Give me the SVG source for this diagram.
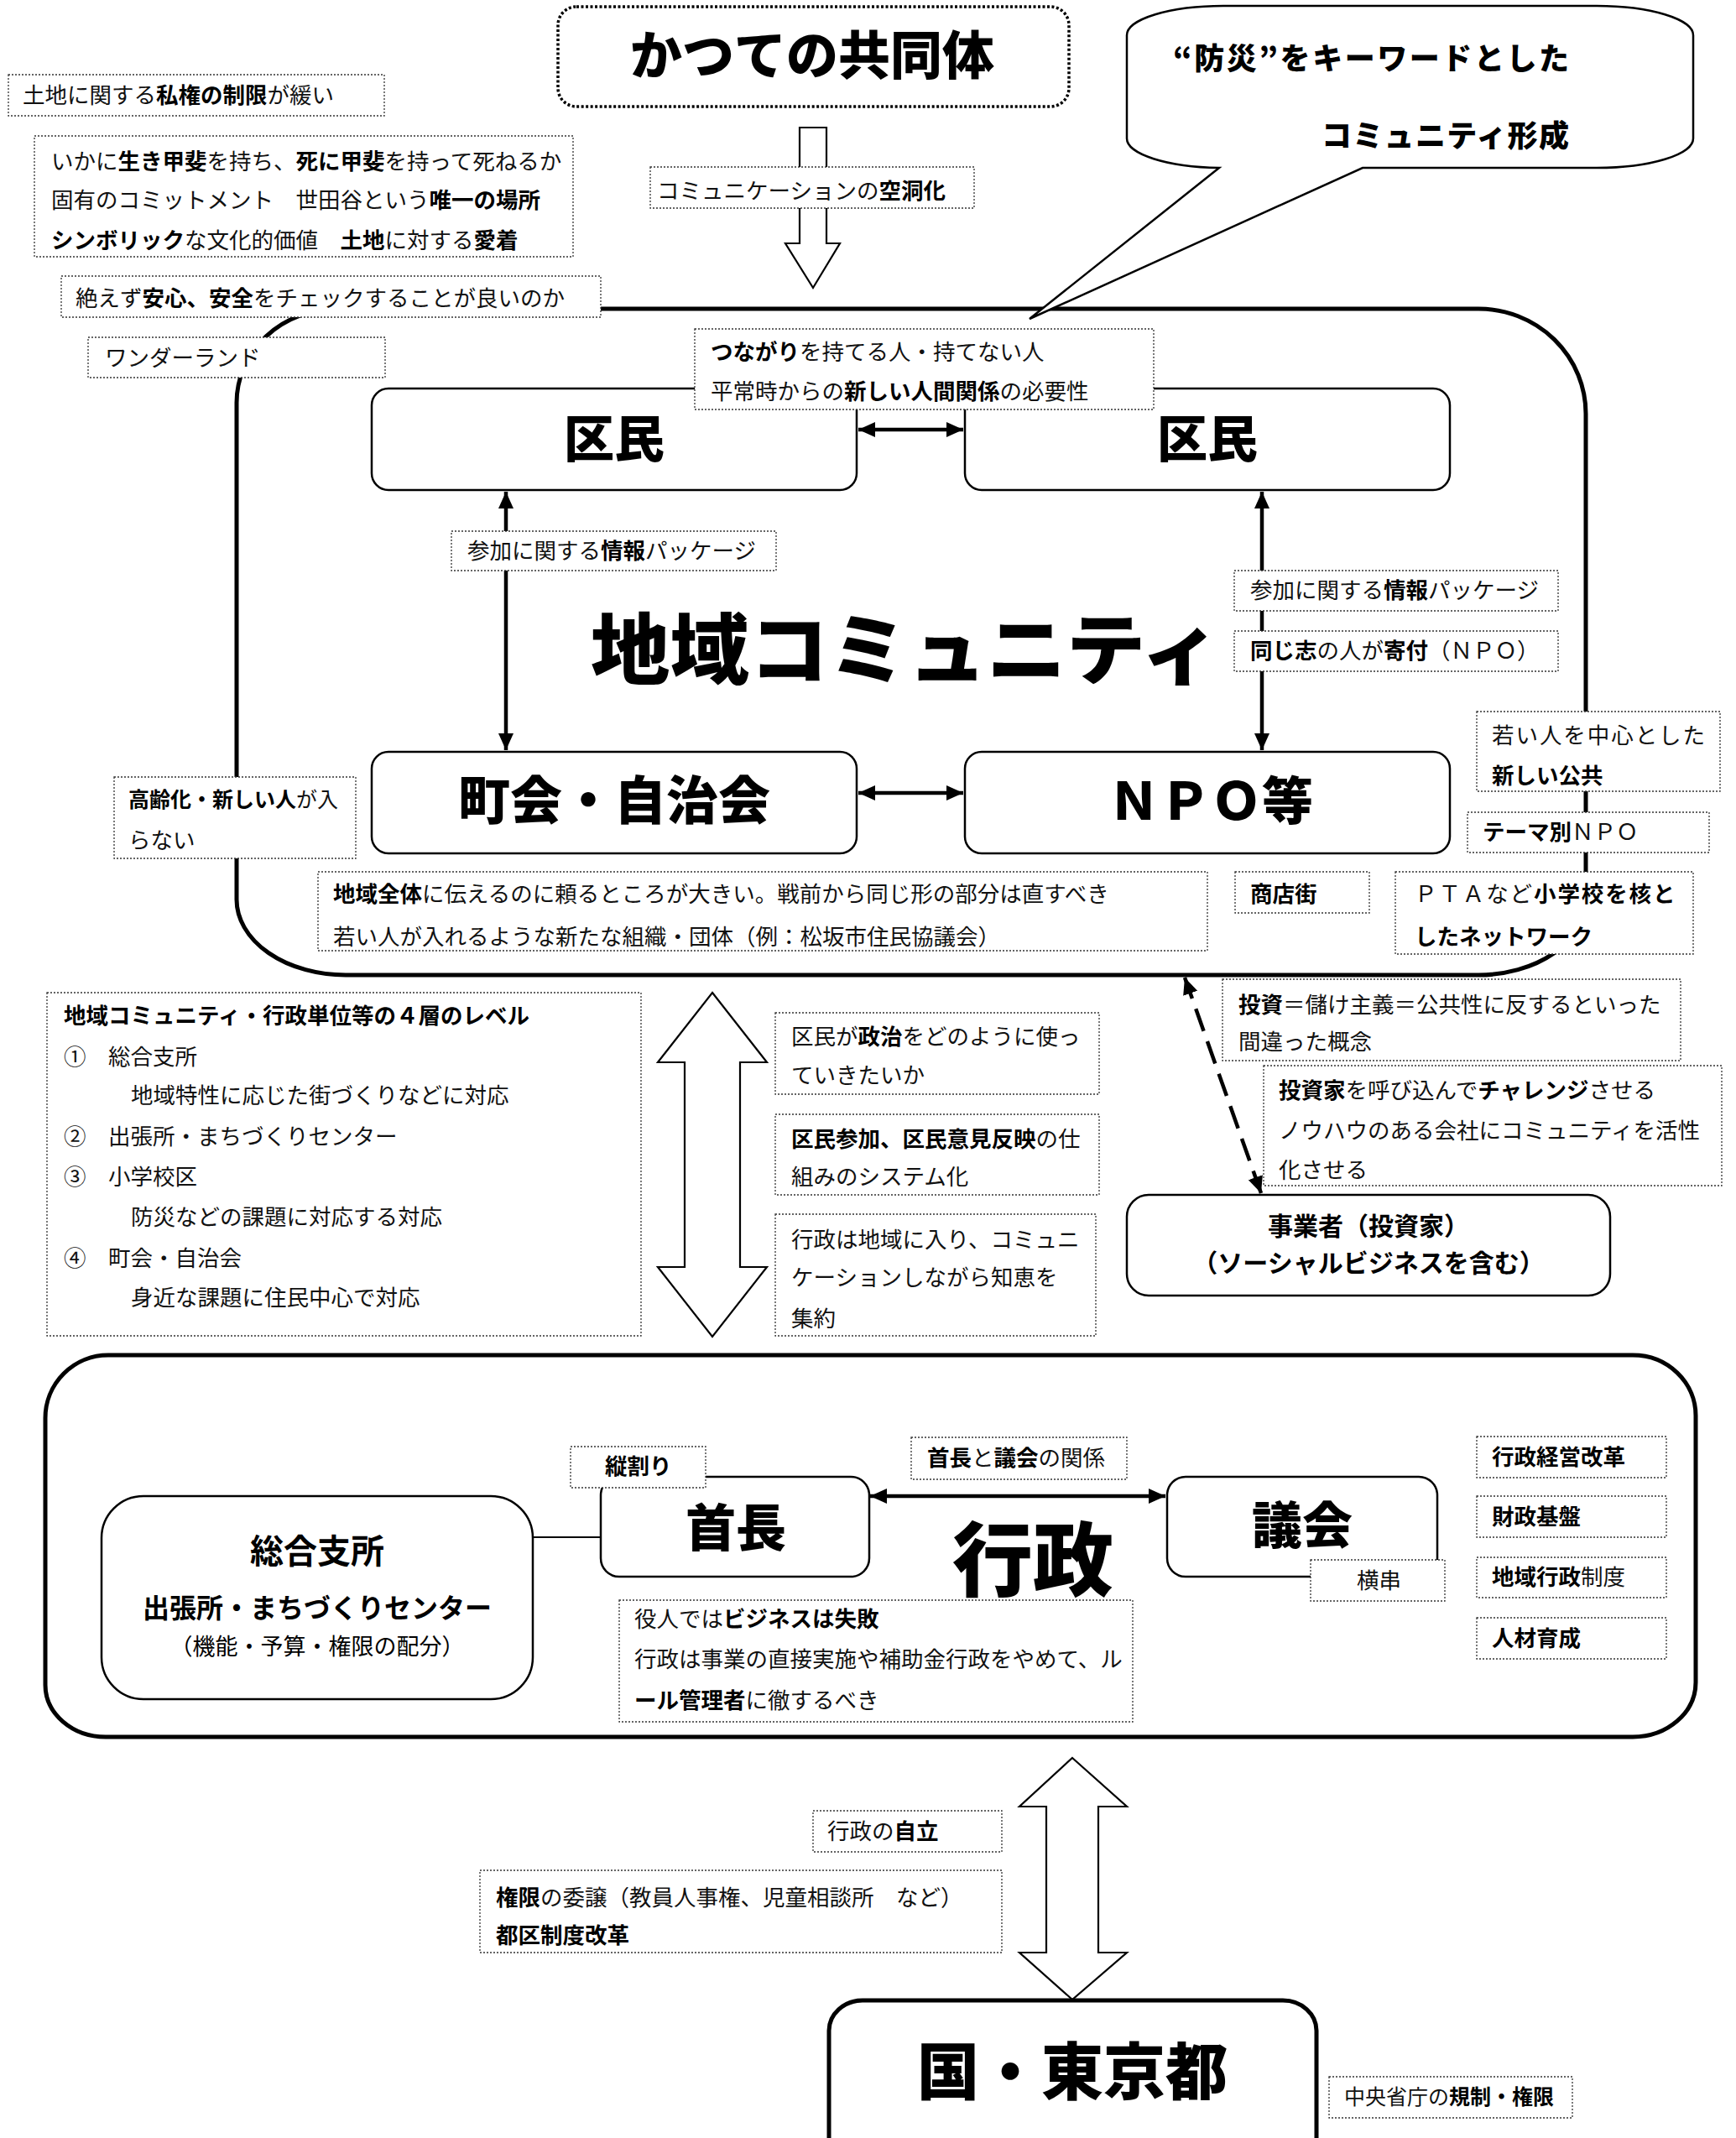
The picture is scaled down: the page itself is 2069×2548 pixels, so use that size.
<svg xmlns="http://www.w3.org/2000/svg" width="2069" height="2548" viewBox="0 0 2069 2548">
<style>
.bg{fill:#fff}
.tb{fill:#fff;stroke:#333;stroke-width:1.3;stroke-dasharray:2 2}
.nb{fill:#fff;stroke:#000;stroke-width:2.5}
.big{fill:none;stroke:#000;stroke-width:5}
.hol{fill:#fff;stroke:#000;stroke-width:2.2;stroke-linejoin:miter}
.t{font-family:"Noto Sans CJK JP","Noto Sans CJK SC",sans-serif;font-size:26.5px;fill:#111;dominant-baseline:central;font-weight:400;transform:translate(0px,-3px)}
.b{font-weight:700;fill:#000}
.h{font-family:"Noto Sans CJK JP","Noto Sans CJK SC",sans-serif;font-weight:700;fill:#000;dominant-baseline:central;text-anchor:middle}
.k{font-weight:900}
.c{stroke:#000;stroke-width:4.5;fill:none}
</style>
<defs>
<marker id="ah" viewBox="0 0 20 20" refX="20" refY="10" markerWidth="20" markerHeight="20" markerUnits="userSpaceOnUse" orient="auto-start-reverse">
<path d="M0,1 L20,10 L0,19 Z" fill="#000"/>
</marker>
</defs>
<rect class="bg" x="0" y="0" width="2069" height="2548"/>

<!-- large container shapes -->
<g id="community-frame">
<path class="big" d="M402,368 L1762,368 A128 125 0 0 1 1890,493 L1890,1072 A128 90 0 0 1 1762,1162 L412,1162 A130 90 0 0 1 282,1072 L282,480 A120 112 0 0 1 402,368 Z"/>
<text class="h k" x="704" y="767" font-size="92" style="text-anchor:start" textLength="750" lengthAdjust="spacingAndGlyphs">地域コミュニティ</text>
</g>
<g id="gyosei-frame">
<path class="big" d="M129,1615 L1946,1615 A75 72 0 0 1 2021,1687 L2021,2005 A75 65 0 0 1 1946,2070 L126,2070 A72 62 0 0 1 54,2008 L54,1690 A75 75 0 0 1 129,1615 Z"/>
<text class="h k" x="1231" y="1852" font-size="96">行政</text>
</g>

<!-- hollow block arrows -->
<g id="hollow-arrows">
<polygon class="hol" points="953,152 985,152 985,290 1001,290 969,343 936,290 953,290"/>
<polygon class="hol" points="849,1183 914,1266 882,1266 882,1510 914,1510 849,1593 784,1510 816,1510 816,1266 784,1266"/>
<polygon class="hol" points="1278,2095 1343,2153 1309,2153 1309,2327 1343,2327 1278,2383 1215,2327 1247,2327 1247,2153 1215,2153"/>
</g>

<!-- connectors -->
<g id="connectors">
<line class="c" x1="1023" y1="512" x2="1148" y2="512" marker-start="url(#ah)" marker-end="url(#ah)"/>
<line class="c" x1="1023" y1="945" x2="1148" y2="945" marker-start="url(#ah)" marker-end="url(#ah)"/>
<line class="c" x1="603" y1="586" x2="603" y2="894" marker-start="url(#ah)" marker-end="url(#ah)"/>
<line class="c" x1="1504" y1="586" x2="1504" y2="894" marker-start="url(#ah)" marker-end="url(#ah)"/>
<line class="c" x1="1037" y1="1783" x2="1389" y2="1783" marker-start="url(#ah)" marker-end="url(#ah)"/>
<line class="c" x1="1503" y1="1422" x2="1412" y2="1165" stroke-dasharray="28 13" marker-start="url(#ah)" marker-end="url(#ah)"/>
<line x1="635" y1="1832" x2="716" y2="1832" stroke="#000" stroke-width="2"/>
</g>

<!-- top nodes -->
<g id="katsute">
<rect x="665" y="8" width="609" height="119" rx="22" fill="#fff" stroke="#000" stroke-width="3.5" stroke-dasharray="3 2.5"/>
<text class="h k" x="968" y="62" font-size="62">かつての共同体</text>
</g>
<g id="bousai-bubble">
<path d="M1453,200 L1227,380 L1624,200 L1903,200 A115 35 0 0 0 2018,165 L2018,42 A115 35 0 0 0 1903,7 L1458,7 A115 35 0 0 0 1343,42 L1343,165 A115 35 0 0 0 1453,200 Z" fill="#fff" stroke="#000" stroke-width="2.5" stroke-linejoin="miter"/>
<text class="h k" x="1398" y="67" font-size="36" style="text-anchor:start" textLength="472" lengthAdjust="spacing">“防災”をキーワードとした</text>
<text class="h k" x="1575" y="159" font-size="36" style="text-anchor:start" textLength="295" lengthAdjust="spacing">コミュニティ形成</text>
</g>

<g id="n-shiken">
<rect class="tb" x="10" y="89" width="448" height="49"/>
<text class="t" x="27" y="114">土地に関する<tspan class="b">私権の制限</tspan>が緩い</text>
</g>
<g id="n-ikigai">
<rect class="tb" x="41" y="162" width="642" height="144"/>
<text class="t" x="61" y="193">いかに<tspan class="b">生き甲斐</tspan>を持ち、<tspan class="b">死に甲斐</tspan>を持って死ねるか</text>
<text class="t" x="61" y="239">固有のコミットメント　世田谷という<tspan class="b">唯一の場所</tspan></text>
<text class="t" x="61" y="287"><tspan class="b">シンボリック</tspan>な文化的価値　<tspan class="b">土地</tspan>に対する<tspan class="b">愛着</tspan></text>
</g>
<g id="n-anshin">
<rect class="tb" x="73" y="329" width="643" height="49"/>
<text class="t" x="90" y="356">絶えず<tspan class="b">安心、安全</tspan>をチェックすることが良いのか</text>
</g>
<g id="n-wonder">
<rect class="tb" x="105" y="402" width="354" height="48"/>
<text class="t" x="125" y="427">ワンダーランド</text>
</g>
<g id="n-kudouka">
<rect class="tb" x="775" y="199" width="386" height="49"/>
<text class="t" x="783" y="228">コミュニケーションの<tspan class="b">空洞化</tspan></text>
</g>

<!-- community nodes -->
<g id="kumin-left">
<rect class="nb" x="443" y="463" width="578" height="121" rx="20"/>
<text class="h k" x="732" y="518" font-size="60">区民</text>
</g>
<g id="kumin-right">
<rect class="nb" x="1150" y="463" width="578" height="121" rx="20"/>
<text class="h k" x="1439" y="518" font-size="60">区民</text>
</g>
<g id="chokai">
<rect class="nb" x="443" y="896" width="578" height="121" rx="20"/>
<text class="h k" x="732" y="950" font-size="62">町会・自治会</text>
</g>
<g id="npo">
<rect class="nb" x="1150" y="896" width="578" height="121" rx="20"/>
<text class="h k" x="1443" y="950" font-size="61">ＮＰＯ等</text>
</g>
<g id="n-tsunagari">
<rect class="tb" x="828" y="392" width="547" height="96"/>
<text class="t" x="847" y="420"><tspan class="b">つながり</tspan>を持てる人・持てない人</text>
<text class="t" x="847" y="467">平常時からの<tspan class="b">新しい人間関係</tspan>の必要性</text>
</g>
<g id="n-joho-left">
<rect class="tb" x="538" y="633" width="387" height="47"/>
<text class="t" x="557" y="657">参加に関する<tspan class="b">情報</tspan>パッケージ</text>
</g>
<g id="n-joho-right">
<rect class="tb" x="1471" y="680" width="386" height="48"/>
<text class="t" x="1490" y="704">参加に関する<tspan class="b">情報</tspan>パッケージ</text>
</g>
<g id="n-kifu">
<rect class="tb" x="1471" y="752" width="386" height="48"/>
<text class="t" x="1490" y="776"><tspan class="b">同じ志</tspan>の人が<tspan class="b">寄付</tspan>（ＮＰＯ）</text>
</g>
<g id="n-koreika">
<rect class="tb" x="136" y="926" width="288" height="97"/>
<text class="t" x="153" y="954" style="font-size:25px"><tspan class="b">高齢化・新しい人</tspan>が入</text>
<text class="t" x="153" y="1002">らない</text>
</g>
<g id="n-chiikizentai">
<rect class="tb" x="379" y="1039" width="1060" height="94"/>
<text class="t" x="397" y="1066"><tspan class="b">地域全体</tspan>に伝えるのに頼るところが大きい。戦前から同じ形の部分は直すべき</text>
<text class="t" x="397" y="1117">若い人が入れるような新たな組織・団体（例：松坂市住民協議会）</text>
</g>
<g id="n-shotengai">
<rect class="tb" x="1472" y="1039" width="160" height="49"/>
<text class="t b" x="1490" y="1066">商店街</text>
</g>
<g id="n-wakai">
<rect class="tb" x="1760" y="848" width="290" height="95"/>
<text class="t" x="1778" y="877" textLength="254" lengthAdjust="spacing">若い人を中心とした</text>
<text class="t b" x="1778" y="925">新しい公共</text>
</g>
<g id="n-theme">
<rect class="tb" x="1749" y="968" width="288" height="48"/>
<text class="t" x="1767" y="992"><tspan class="b">テーマ別</tspan>ＮＰＯ</text>
</g>
<g id="n-pta">
<rect class="tb" x="1663" y="1039" width="355" height="98"/>
<text class="t" x="1686" y="1066" style="letter-spacing:1.9px">ＰＴＡなど<tspan class="b">小学校を核と</tspan></text>
<text class="t b" x="1686" y="1117">したネットワーク</text>
</g>

<!-- middle -->
<g id="n-4so">
<rect class="tb" x="56" y="1183" width="708" height="409"/>
<text class="t b" x="76" y="1211">地域コミュニティ・行政単位等の４層のレベル</text>
<text class="t" x="76" y="1260">①　総合支所</text>
<text class="t" x="156" y="1306">地域特性に応じた街づくりなどに対応</text>
<text class="t" x="76" y="1355">②　出張所・まちづくりセンター</text>
<text class="t" x="76" y="1403">③　小学校区</text>
<text class="t" x="156" y="1451">防災などの課題に対応する対応</text>
<text class="t" x="76" y="1500">④　町会・自治会</text>
<text class="t" x="156" y="1547">身近な課題に住民中心で対応</text>
</g>
<g id="n-seiji">
<rect class="tb" x="924" y="1207" width="386" height="97"/>
<text class="t" x="943" y="1236">区民が<tspan class="b">政治</tspan>をどのように使っ</text>
<text class="t" x="943" y="1282">ていきたいか</text>
</g>
<g id="n-sanka">
<rect class="tb" x="924" y="1328" width="386" height="96"/>
<text class="t" x="943" y="1358"><tspan class="b">区民参加、区民意見反映</tspan>の仕</text>
<text class="t" x="943" y="1403">組みのシステム化</text>
</g>
<g id="n-chie">
<rect class="tb" x="924" y="1447" width="382" height="145"/>
<text class="t" x="943" y="1478">行政は地域に入り、コミュニ</text>
<text class="t" x="943" y="1523">ケーションしながら知恵を</text>
<text class="t" x="943" y="1572">集約</text>
</g>
<g id="n-toshi">
<rect class="tb" x="1457" y="1167" width="546" height="97"/>
<text class="t" x="1476" y="1198"><tspan class="b">投資</tspan>＝儲け主義＝公共性に反するといった</text>
<text class="t" x="1476" y="1242">間違った概念</text>
</g>
<g id="n-toshika">
<rect class="tb" x="1506" y="1270" width="546" height="143"/>
<text class="t" x="1524" y="1300"><tspan class="b">投資家</tspan>を呼び込んで<tspan class="b">チャレンジ</tspan>させる</text>
<text class="t" x="1524" y="1348">ノウハウのある会社にコミュニティを活性</text>
<text class="t" x="1524" y="1395">化させる</text>
</g>
<g id="jigyosha">
<rect class="nb" x="1343" y="1424" width="576" height="120" rx="26"/>
<text class="h" x="1631" y="1459" font-size="30">事業者（投資家）</text>
<text class="h" x="1631" y="1503" font-size="30">（ソーシャルビジネスを含む）</text>
</g>

<!-- gyosei nodes -->
<g id="sogoshisho">
<rect class="nb" x="121" y="1783" width="514" height="242" rx="50"/>
<text class="h" x="378" y="1846" font-size="40">総合支所</text>
<text class="h" x="378" y="1914" font-size="32">出張所・まちづくりセンター</text>
<text class="h" x="378" y="1960" font-size="27" style="font-weight:400">（機能・予算・権限の配分）</text>
</g>
<g id="shucho">
<rect class="nb" x="716" y="1760" width="320" height="119" rx="22"/>
<text class="h k" x="877" y="1816" font-size="60">首長</text>
</g>
<g id="n-tatewari">
<rect class="tb" x="680" y="1724" width="161" height="49"/>
<text class="t b" x="721" y="1748">縦割り</text>
</g>
<g id="gikai">
<rect class="nb" x="1391" y="1760" width="322" height="119" rx="22"/>
<text class="h k" x="1552" y="1813" font-size="60">議会</text>
</g>
<g id="n-yokogushi">
<rect class="tb" x="1562" y="1859" width="160" height="49"/>
<text class="t" x="1617" y="1884">横串</text>
</g>
<g id="n-kankei">
<rect class="tb" x="1086" y="1713" width="257" height="50"/>
<text class="t" x="1105" y="1738"><tspan class="b">首長</tspan>と<tspan class="b">議会</tspan>の関係</text>
</g>
<g id="n-yakunin">
<rect class="tb" x="738" y="1907" width="612" height="145"/>
<text class="t" x="756" y="1930">役人では<tspan class="b">ビジネスは失敗</tspan></text>
<text class="t" x="756" y="1978">行政は事業の直接実施や補助金行政をやめて、ル</text>
<text class="t" x="756" y="2027"><tspan class="b">ール管理者</tspan>に徹するべき</text>
</g>
<g id="n-keiei">
<rect class="tb" x="1760" y="1712" width="226" height="49"/>
<text class="t b" x="1778" y="1737">行政経営改革</text>
</g>
<g id="n-zaisei">
<rect class="tb" x="1760" y="1783" width="226" height="49"/>
<text class="t b" x="1778" y="1808">財政基盤</text>
</g>
<g id="n-seido">
<rect class="tb" x="1760" y="1856" width="226" height="48"/>
<text class="t" x="1778" y="1880"><tspan class="b">地域行政</tspan>制度</text>
</g>
<g id="n-jinzai">
<rect class="tb" x="1760" y="1928" width="226" height="49"/>
<text class="t b" x="1778" y="1953">人材育成</text>
</g>

<!-- bottom -->
<g id="n-jiritsu">
<rect class="tb" x="969" y="2158" width="225" height="49"/>
<text class="t" x="986" y="2183">行政の<tspan class="b">自立</tspan></text>
</g>
<g id="n-joi">
<rect class="tb" x="572" y="2229" width="622" height="98"/>
<text class="t" x="591" y="2262"><tspan class="b">権限</tspan>の委譲（教員人事権、児童相談所　など）</text>
<text class="t b" x="591" y="2307">都区制度改革</text>
</g>
<g id="kuni-tokyo">
<path d="M988,2600 L988,2420 A40 36 0 0 1 1028,2384 L1529,2384 A40 36 0 0 1 1569,2420 L1569,2600" fill="#fff" stroke="#000" stroke-width="5"/>
<text class="h k" x="1278" y="2463" font-size="74">国・東京都</text>
</g>
<g id="n-chuo">
<rect class="tb" x="1584" y="2475" width="290" height="49"/>
<text class="t" x="1602" y="2500" style="font-size:25px">中央省庁の<tspan class="b">規制・権限</tspan></text>
</g>
</svg>
